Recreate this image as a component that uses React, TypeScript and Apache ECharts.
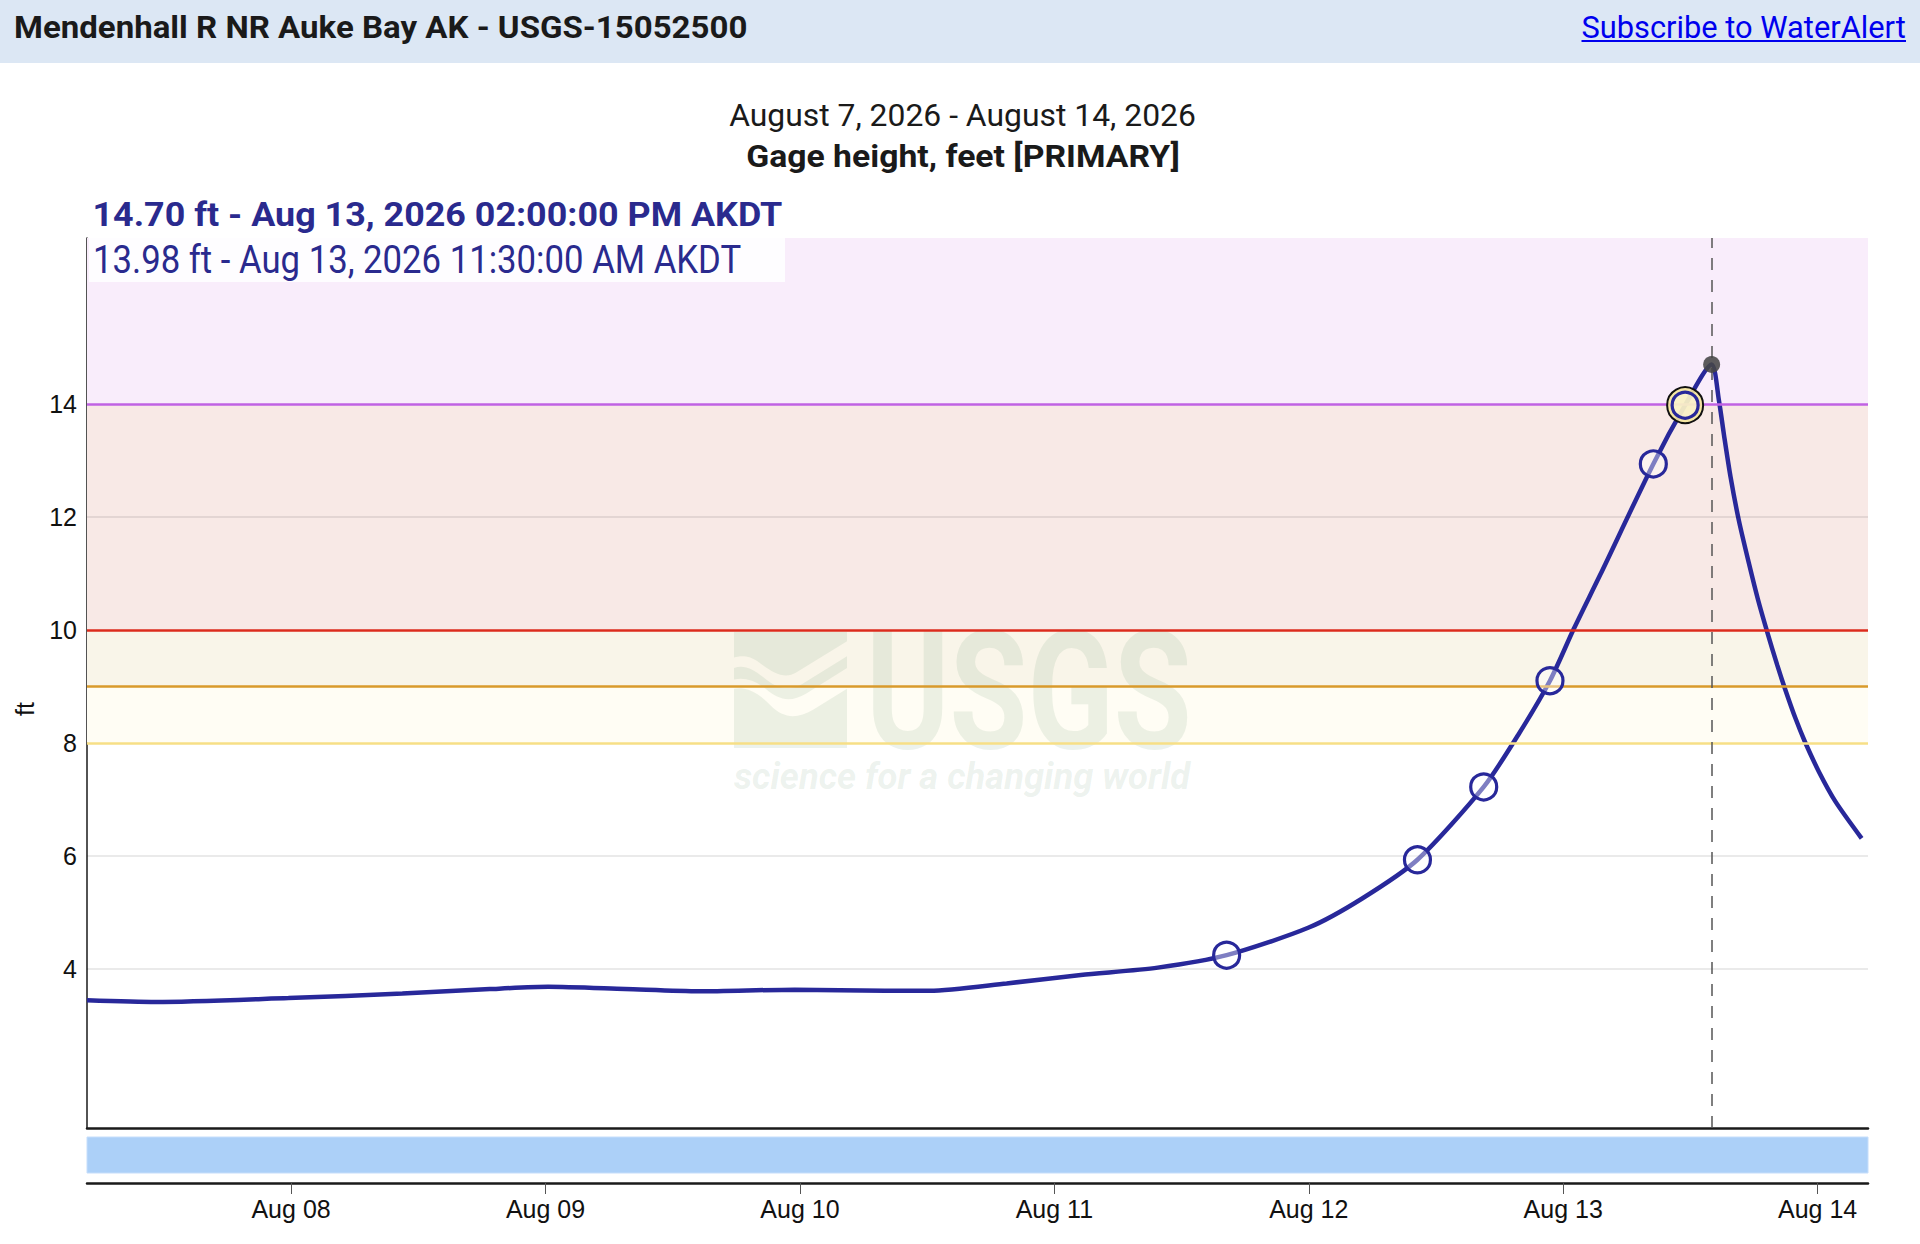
import React, { useEffect, useRef } from 'react';
import * as echarts from 'echarts';

// ---------- data ----------
const SERIES_TIMES = [
  '08-07 04:45', '08-07 11:15', '08-07 23:45', '08-08 10:30', '08-08 18:45', '08-09 00:15',
  '08-09 07:30', '08-09 14:30', '08-09 23:30', '08-10 08:00', '08-10 12:15', '08-10 19:30',
  '08-11 02:30', '08-11 09:45', '08-11 16:15', '08-12 00:00', '08-12 05:00', '08-12 10:15',
  '08-12 16:30', '08-12 19:45', '08-12 22:45', '08-13 01:00', '08-13 03:30', '08-13 08:30',
  '08-13 11:30', '08-13 14:00', '08-13 14:41', '08-13 15:10', '08-13 15:47', '08-13 16:34',
  '08-13 17:31', '08-13 18:23', '08-13 19:14', '08-13 20:11', '08-13 20:55', '08-13 21:55',
  '08-13 22:48', '08-14 00:07', '08-14 01:41', '08-14 04:09',
];
const SERIES_VALUES = [
  3.44, 3.41, 3.48, 3.56, 3.64, 3.68,
  3.64, 3.6, 3.63, 3.61, 3.61, 3.74,
  3.89, 4.02, 4.24, 4.73, 5.24, 5.93,
  7.22, 8.14, 9.1, 10.02, 10.98, 12.94,
  13.98, 14.7, 14.07, 13.45, 12.71, 11.94,
  11.18, 10.53, 9.97, 9.38, 8.96, 8.43,
  8.02, 7.49, 6.96, 6.31,
];
const MARKER_TIMES = ['08-11 16:15', '08-12 10:15', '08-12 16:30', '08-12 22:45', '08-13 08:30', '08-13 11:30'];
const MARKER_VALUES = [4.24, 5.93, 7.22, 9.1, 12.94, 13.98];
const SELECTED_TIME = '08-13 11:30';
const SELECTED_VALUE = 13.98;
const PEAK_TIME = '08-13 14:00';
const PEAK_VALUE = 14.7;
const X_RANGE = ['08-07 04:45', '08-14 04:45'];
const Y_RANGE = [1.18, 16.94];
const Y_TICKS = [4, 6, 8, 10, 12, 14];
const X_TICK_TIMES = ['08-08 00:00', '08-09 00:00', '08-10 00:00', '08-11 00:00', '08-12 00:00', '08-13 00:00', '08-14 00:00'];
const X_TICK_LABELS = ['Aug 08', 'Aug 09', 'Aug 10', 'Aug 11', 'Aug 12', 'Aug 13', 'Aug 14'];
const THRESHOLD_VALUES = [8, 9, 10, 14];
const GRIDLINE_VALUES = [4, 6, 12];

const TITLE = 'Mendenhall R NR Auke Bay AK - USGS-15052500';
const LINK = 'Subscribe to WaterAlert';
const SUBTITLE = 'August 7, 2026 - August 14, 2026';
const PARAM = 'Gage height, feet [PRIMARY]';
const TIP_PEAK = '14.70 ft - Aug 13, 2026 02:00:00 PM AKDT';
const TIP_SEL = '13.98 ft - Aug 13, 2026 11:30:00 AM AKDT';

// ---------- helpers ----------
function toHours(s: string): number {
  const [md, hm] = s.split(' ');
  const [, d] = md.split('-').map(Number);
  const [h, mi] = hm.split(':').map(Number);
  return (d - 7) * 24 + h + mi / 60;
}

function fitScale(text: string, font: string, target: number): number {
  const c = document.createElement('canvas').getContext('2d');
  if (!c) return 1;
  c.font = font;
  const w = c.measureText(text).width;
  return w > 0 ? target / w : 1;
}

const LINE_COLOR = '#28289a';
const TEXT_BLUE = '#2a2a8e';

function txt(text: string, x: number, y: number, font: string, target: number, fill: string, align: string, z = 21) {
  return {
    type: 'text',
    x,
    y,
    scaleX: fitScale(text, font, target),
    z,
    silent: true,
    style: {
      text,
      font,
      fill,
      align,
      textAlign: align,
      verticalAlign: 'middle',
      textVerticalAlign: 'middle',
    },
  };
}

const LOGO_D =
  'M0 0 H100 V8 L55 35 C45 41 35 36 22 26 C14 20 6 20 0 22 Z ' +
  'M0 31 C8 28 16 31 26 39 C38 49 48 51 60 45 L100 21 V31 L64 53 C50 61 40 59 28 49 C18 41 8 39 0 41 Z ' +
  'M0 49 C10 47 20 51 32 63 C44 75 56 75 70 67 L100 49 V100 H0 Z';

let logoRegistered = false;

export default function App() {
  const ref = useRef<HTMLDivElement>(null);

  useEffect(() => {
    if (!ref.current) return;
    if (!logoRegistered) {
      echarts.graphic.registerShape('usgsLogo', echarts.graphic.extendPath(LOGO_D, {}) as any);
      logoRegistered = true;
    }
    const chart = echarts.init(ref.current, undefined, { renderer: 'svg' });

    const xMin = toHours(X_RANGE[0]);
    const xMax = toHours(X_RANGE[1]);
    const xTickHours = X_TICK_TIMES.map(toHours);
    const lineData = SERIES_TIMES.map((t, i) => [toHours(t), SERIES_VALUES[i]]);
    const markerData = MARKER_TIMES.map((t, i) => [toHours(t), MARKER_VALUES[i]]);

    const thresholdColors: Record<number, string> = { 8: '#f7df86', 9: '#d99a2b', 10: '#dc2b1d', 14: '#c062e3' };
    const bandColors = ['#fffdf4', '#f9f5e9', '#f8e9e6', '#f9edfb'];
    const bandEdges = [...THRESHOLD_VALUES, Y_RANGE[1]];

    const labelFor = (v: number) => {
      const i = xTickHours.findIndex((h) => Math.abs(h - v) < 0.01);
      return i >= 0 ? X_TICK_LABELS[i] : '';
    };

    const option: any = {
      animation: false,
      backgroundColor: '#ffffff',
      grid: [
        { left: 87, right: 52, top: 238, height: 890 },
        {
          left: 87, right: 52, top: 1137, height: 36, show: true,
          backgroundColor: '#acd0f8', borderColor: '#c6defb', borderWidth: 1,
        },
      ],
      xAxis: [
        {
          gridIndex: 0, type: 'value', min: xMin, max: xMax,
          axisLine: { show: true, onZero: false, lineStyle: { color: '#1a1a1a', width: 2.5 } },
          axisTick: { show: false }, axisLabel: { show: false }, splitLine: { show: false },
        },
        {
          gridIndex: 1, type: 'value', min: xMin, max: xMax, position: 'bottom', offset: 10,
          axisLine: { show: true, onZero: false, lineStyle: { color: '#1a1a1a', width: 2.5 } },
          axisTick: { show: true, customValues: xTickHours, length: 11, lineStyle: { color: '#555', width: 1 } },
          axisLabel: {
            show: true, customValues: xTickHours, formatter: labelFor,
            fontFamily: 'Liberation Sans', fontSize: 25, color: '#111', margin: 13,
          },
          splitLine: { show: false },
        },
      ],
      yAxis: [
        {
          gridIndex: 0, type: 'value', min: Y_RANGE[0], max: Y_RANGE[1],
          axisLine: { show: true, onZero: false, lineStyle: { color: '#1a1a1a', width: 1.5 } },
          axisTick: { show: false },
          axisLabel: { customValues: Y_TICKS, fontFamily: 'Liberation Sans', fontSize: 25, color: '#111', margin: 10 },
          splitLine: { show: false },
        },
        { gridIndex: 1, type: 'value', min: 0, max: 1, show: false },
      ],
      series: [
        {
          name: 'Gage height',
          type: 'line',
          xAxisIndex: 0, yAxisIndex: 0,
          data: lineData,
          showSymbol: false,
          smooth: 0.25,
          z: 3,
          silent: true,
          lineStyle: { color: LINE_COLOR, width: 4.5 },
          markArea: {
            silent: true,
            data: THRESHOLD_VALUES.map((v, i) => [
              { yAxis: v, itemStyle: { color: bandColors[i] } },
              { yAxis: bandEdges[i + 1] },
            ]),
          },
          markLine: {
            silent: true,
            symbol: ['none', 'none'],
            label: { show: false },
            data: [
              ...GRIDLINE_VALUES.map((v) => ({ yAxis: v, lineStyle: { color: 'rgba(0,0,0,0.11)', width: 1.5, type: 'solid' } })),
              ...THRESHOLD_VALUES.map((v) => ({ yAxis: v, lineStyle: { color: thresholdColors[v], width: 2.5, type: 'solid' } })),
              { xAxis: toHours(PEAK_TIME), lineStyle: { color: '#555', width: 1.5, type: [12, 10] } },
            ],
          },
        },
        {
          name: 'blank', type: 'line', xAxisIndex: 1, yAxisIndex: 1, data: [], silent: true,
        },
        {
          name: 'selected', type: 'scatter', xAxisIndex: 0, yAxisIndex: 0,
          data: [[toHours(SELECTED_TIME), SELECTED_VALUE]],
          symbol: 'circle', symbolSize: 36, z: 7, silent: true,
          itemStyle: { color: 'rgba(244,230,155,0.9)', borderColor: '#111', borderWidth: 2, opacity: 1 },
        },
        {
          name: 'markers', type: 'scatter', xAxisIndex: 0, yAxisIndex: 0,
          data: markerData,
          symbol: 'circle', symbolSize: 26, z: 8, silent: true,
          itemStyle: { color: 'rgba(255,255,255,0.4)', borderColor: LINE_COLOR, borderWidth: 3.2, opacity: 1 },
        },
        {
          name: 'peak', type: 'scatter', xAxisIndex: 0, yAxisIndex: 0,
          data: [[toHours(PEAK_TIME), PEAK_VALUE]],
          symbol: 'circle', symbolSize: 17, z: 9, silent: true,
          itemStyle: { color: 'rgba(70,70,70,0.88)', opacity: 1 },
        },
      ],
      graphic: [
        { type: 'rect', z: 0, silent: true, shape: { x: 0, y: 0, width: 1920, height: 63 }, style: { fill: '#dce7f4' } },
        txt(TITLE, 14, 27.5, 'bold 31px Roboto', 734, '#1a1a1a', 'left'),
        txt(LINK, 1581.5, 27.5, '31px Roboto', 324.5, '#0000ee', 'left'),
        { type: 'line', z: 21, silent: true, shape: { x1: 1581.5, y1: 41, x2: 1906, y2: 41 }, style: { stroke: '#0000ee', lineWidth: 2 } },
        txt(SUBTITLE, 962.5, 114.5, '32px Roboto', 467, '#1a1a1a', 'center'),
        txt(PARAM, 963, 156, 'bold 31px Roboto', 434, '#1a1a1a', 'center'),
        // watermark
        {
          type: 'usgsLogo', z: 2, silent: true, x: 734, y: 632, scaleX: 1.13, scaleY: 1.16,
          style: { fill: 'rgba(120,160,130,0.14)' },
        },
        txt('USGS', 866, 691, 'bold 166px Roboto', 326, 'rgba(120,160,130,0.14)', 'left', 2),
        txt('science for a changing world', 734, 777, 'italic bold 36px Roboto', 456, 'rgba(120,160,130,0.14)', 'left', 2),
        // hover readout
        { type: 'rect', z: 20, silent: true, shape: { x: 89, y: 238, width: 696, height: 44 }, style: { fill: 'rgba(255,255,255,0.85)' } },
        txt(TIP_PEAK, 92.5, 215, 'bold 33px Roboto', 690, TEXT_BLUE, 'left'),
        txt(TIP_SEL, 93, 259.5, '39px Roboto', 648, TEXT_BLUE, 'left'),
        // y axis name
        {
          type: 'text', z: 21, silent: true, x: 24.5, y: 709, rotation: Math.PI / 2,
          style: {
            text: 'ft', font: '25px "Liberation Sans"', fill: '#111',
            align: 'center', textAlign: 'center', verticalAlign: 'middle', textVerticalAlign: 'middle',
          },
        },
      ],
    };

    chart.setOption(option);
    return () => chart.dispose();
  }, []);

  return (
    <div
      ref={ref}
      style={{ position: 'absolute', left: 0, top: 0, width: 1920, height: 1244, background: '#fff' }}
    />
  );
}
